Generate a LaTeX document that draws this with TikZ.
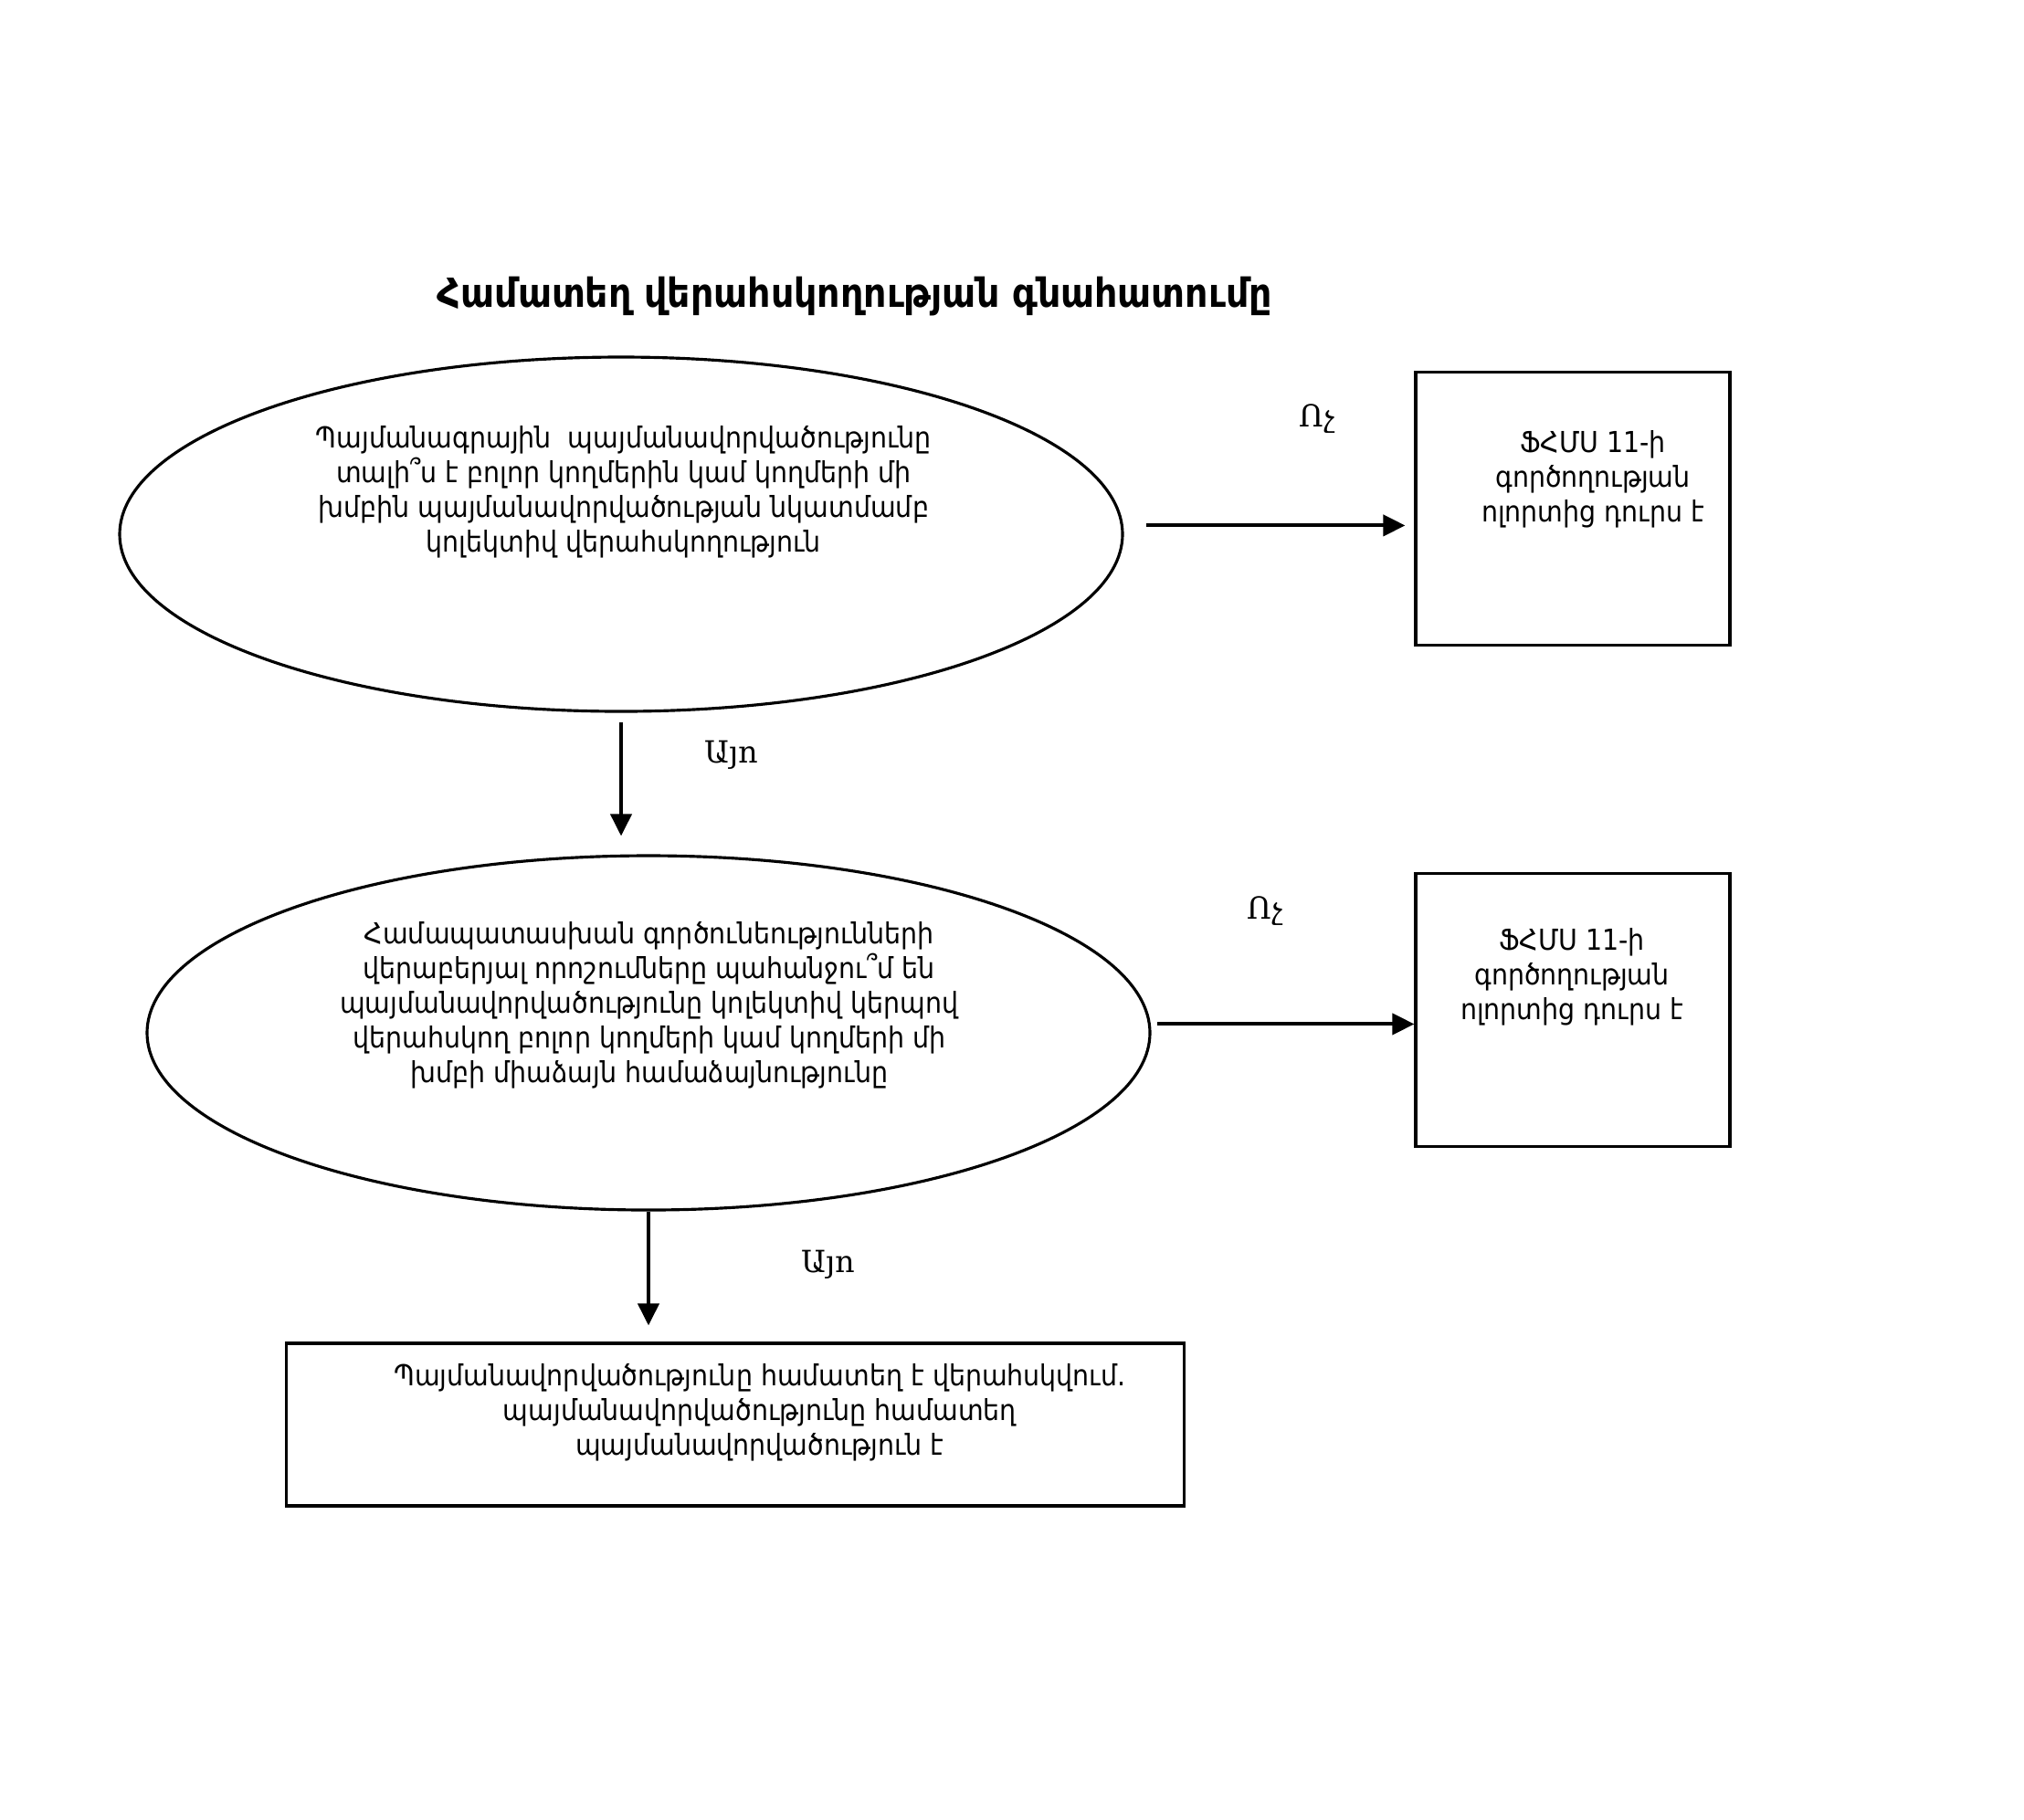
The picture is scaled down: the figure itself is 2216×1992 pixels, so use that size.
\documentclass[tikz,border=0pt]{standalone}
\usepackage{fontspec}
\usepackage{tikz}
\usepackage{xcolor}
\usetikzlibrary{arrows.meta,positioning,calc,shapes.geometric}
\newfontfamily\armfont{DejaVu Sans Condensed}
\newfontfamily\armserif{DejaVu Serif}
\definecolor{InkBlack}{HTML}{000000}
\tikzset{
  question/.style={ellipse, draw=InkBlack, line width=0.9pt, minimum width=109.8mm, minimum height=38.8mm},
  outbox/.style={rectangle, draw=InkBlack, line width=0.9pt, minimum width=34.4mm, minimum height=29.9mm},
  resultbox/.style={rectangle, draw=InkBlack, line width=0.9pt, minimum width=98.3mm, minimum height=17.8mm},
  txt/.style={align=center, inner sep=0pt, font=\armfont\fontsize{9}{10.8}\selectfont},
  answer/.style={inner sep=0pt, font=\armserif\fontsize{9.5}{11}\selectfont},
  arrow/.style={-{Triangle[length=2.4mm, width=2.3mm]}, line width=1.15pt, draw=InkBlack}
}
\begin{document}
\begin{tikzpicture}[x=0.1mm, y=-0.1mm]
\useasboundingbox (0,0) rectangle (2216,1992);
\node[txt, font=\armfont\bfseries\fontsize{12.5}{15}\selectfont] (title) at (936,325) {Համատեղ վերահսկողության գնահատումը};
\node[question] (q1) at (680,585) {};
\node[txt] (q1text) at (683,539) {Պայմանագրային~ պայմանավորվածությունը\\տալի՞ս է բոլոր կողմերին կամ կողմերի մի\\խմբին պայմանավորվածության նկատմամբ\\կոլեկտիվ վերահսկողություն};
\node[outbox] (out1) at (1722,557) {};
\node[txt] (out1text) at (1744,525) {ՖՀՄՍ 11-ի\\գործողության\\ոլորտից դուրս է};
\node[question] (q2) at (710,1131) {};
\node[txt] (q2text) at (711,1101) {Համապատասխան գործունեությունների\\վերաբերյալ որոշումները պահանջու՞մ են\\պայմանավորվածությունը կոլեկտիվ կերպով\\վերահսկող բոլոր կողմերի կամ կողմերի մի\\խմբի միաձայն համաձայնությունը};
\node[outbox] (out2) at (1722,1106) {};
\node[txt] (out2text) at (1721,1070) {ՖՀՄՍ 11-ի\\գործողության\\ոլորտից դուրս է};
\node[resultbox] (result) at (805,1560) {};
\node[txt] (resulttext) at (832,1547) {Պայմանավորվածությունը համատեղ է վերահսկվում.\\պայմանավորվածությունը համատեղ\\պայմանավորվածություն է};
\node[answer] (no1) at (1442,459) {Ոչ};
\node[answer] (yes1) at (801,827) {Այո};
\node[answer] (no2) at (1385,998) {Ոչ};
\node[answer] (yes2) at (907,1385) {Այո};
\draw[arrow, shorten <=2.5mm, shorten >=1mm] (q1.1) -- (q1.1 -| out1.west);
\draw[arrow, shorten <=1mm, shorten >=2mm] (q1.south) -- (q1.south |- q2.north);
\draw[arrow, shorten <=0.7mm] (q2.1) -- (q2.1 -| out2.west);
\draw[arrow, shorten >=1.8mm] (q2.south) -- (q2.south |- result.north);
\end{tikzpicture}
\end{document}
